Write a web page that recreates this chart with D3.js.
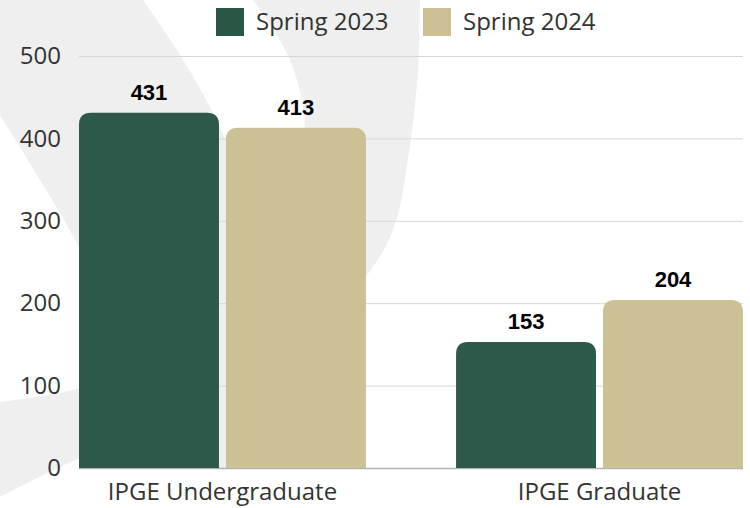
<!DOCTYPE html>
<html>
<head>
<meta charset="utf-8">
<script src="https://cdn.jsdelivr.net/npm/d3@7"></script>
<style>
  html, body { margin: 0; padding: 0; background: #fff; }
  svg { display: block; }
  .tick text { font-family: "Open Sans", sans-serif; font-size: 24px; fill: #333; }
</style>
</head>
<body>
<div id="chart"></div>
<script>
const groups = ['IPGE Undergraduate', 'IPGE Graduate'];
const series = ['Spring 2023', 'Spring 2024'];
const spring2023 = [431, 153];
const spring2024 = [413, 204];
const yTicks = [0, 100, 200, 300, 400, 500];

const colors = { 'Spring 2023': '#2a5646', 'Spring 2024': '#cbbf93' };

const width = 750;
const height = 508;
const margin = { top: 56, right: 7, bottom: 40, left: 79 };

// faint swoosh watermark in the background
const swooshOuter = [[420, 0], [418, 70], [410, 145], [393, 230], [362, 282], [300, 350], [200, 415], [80, 458], [0, 497]];
const swooshInner = [[0, 402], [80, 388], [160, 355], [240, 290], [290, 210], [305, 130], [290, 60], [253, 0]];
const sweepRight = [[143, 0], [180, 55], [220, 127], [250, 210], [275, 320], [290, 468]];
const sweepLeft = [[125, 468], [110, 330], [80, 250], [40, 180], [0, 115]];

const svg = d3.select('#chart')
  .append('svg')
  .attr('width', width)
  .attr('height', height);

const curve = d3.line().curve(d3.curveCatmullRom.alpha(0.5));
const bg = svg.append('g').attr('fill', '#efefef');
bg.append('path')
  .attr('d', curve(swooshOuter) + curve(swooshInner).replace(/^M/, 'L') + 'Z');
bg.append('path')
  .attr('d', 'M0,0' + curve(sweepRight).replace(/^M/, 'L') + curve(sweepLeft).replace(/^M/, 'L') + 'Z');

const x0 = d3.scaleBand()
  .domain(groups)
  .range([margin.left, width - margin.right])
  .paddingInner(0.239)
  .paddingOuter(0);

const x1 = d3.scaleBand()
  .domain(series)
  .range([0, x0.bandwidth()])
  .paddingInner(0.0476);

const y = d3.scaleLinear()
  .domain([0, 500])
  .range([height - margin.bottom, margin.top]);

// grid + y labels
const yAxis = svg.append('g')
  .attr('transform', `translate(${margin.left},0)`)
  .call(d3.axisLeft(y)
    .tickValues(yTicks)
    .tickSize(-(width - margin.right - margin.left))
    .tickPadding(18));
yAxis.select('.domain').remove();
yAxis.selectAll('.tick line')
  .attr('stroke', d => d === 0 ? '#b3b3b3' : '#d6d6d6')
  .attr('stroke-width', d => d === 0 ? 1.5 : 1);

const rows = groups.map((g, i) => ({
  group: g,
  values: [
    { key: series[0], value: spring2023[i] },
    { key: series[1], value: spring2024[i] }
  ]
}));

function topRounded(x, yTop, w, h, r) {
  return `M${x},${yTop + h}V${yTop + r}Q${x},${yTop} ${x + r},${yTop}` +
    `H${x + w - r}Q${x + w},${yTop} ${x + w},${yTop + r}V${yTop + h}Z`;
}

const grp = svg.append('g')
  .selectAll('g')
  .data(rows)
  .join('g')
  .attr('transform', d => `translate(${x0(d.group)},0)`);

grp.selectAll('path')
  .data(d => d.values)
  .join('path')
  .attr('d', d => topRounded(x1(d.key), y(d.value), x1.bandwidth(), y(0) - y(d.value), 12))
  .attr('fill', d => colors[d.key])
  .attr('fill-opacity', 0.98);

grp.selectAll('text')
  .data(d => d.values)
  .join('text')
  .attr('x', d => x1(d.key) + x1.bandwidth() / 2)
  .attr('y', d => y(d.value) - 13)
  .attr('text-anchor', 'middle')
  .style('font-family', '"Liberation Sans", Arial, sans-serif')
  .style('font-weight', 'bold')
  .style('font-size', '22px')
  .style('fill', '#000')
  .text(d => d.value);

// x labels
svg.append('g')
  .selectAll('text')
  .data(groups)
  .join('text')
  .attr('x', d => x0(d) + x0.bandwidth() / 2)
  .attr('y', 500)
  .attr('text-anchor', 'middle')
  .style('font-family', '"Open Sans", sans-serif')
  .style('font-size', '24px')
  .style('fill', '#333')
  .text(d => d);

// legend
const legendX = [216, 423];
const legend = svg.append('g')
  .selectAll('g')
  .data(series)
  .join('g')
  .attr('transform', (d, i) => `translate(${legendX[i]},8)`);

legend.append('rect')
  .attr('width', 28)
  .attr('height', 28)
  .attr('fill', d => colors[d]);

legend.append('text')
  .attr('x', 40)
  .attr('y', 22)
  .style('font-family', '"Open Sans", sans-serif')
  .style('font-size', '24px')
  .style('fill', '#333')
  .text(d => d);
</script>
</body>
</html>
